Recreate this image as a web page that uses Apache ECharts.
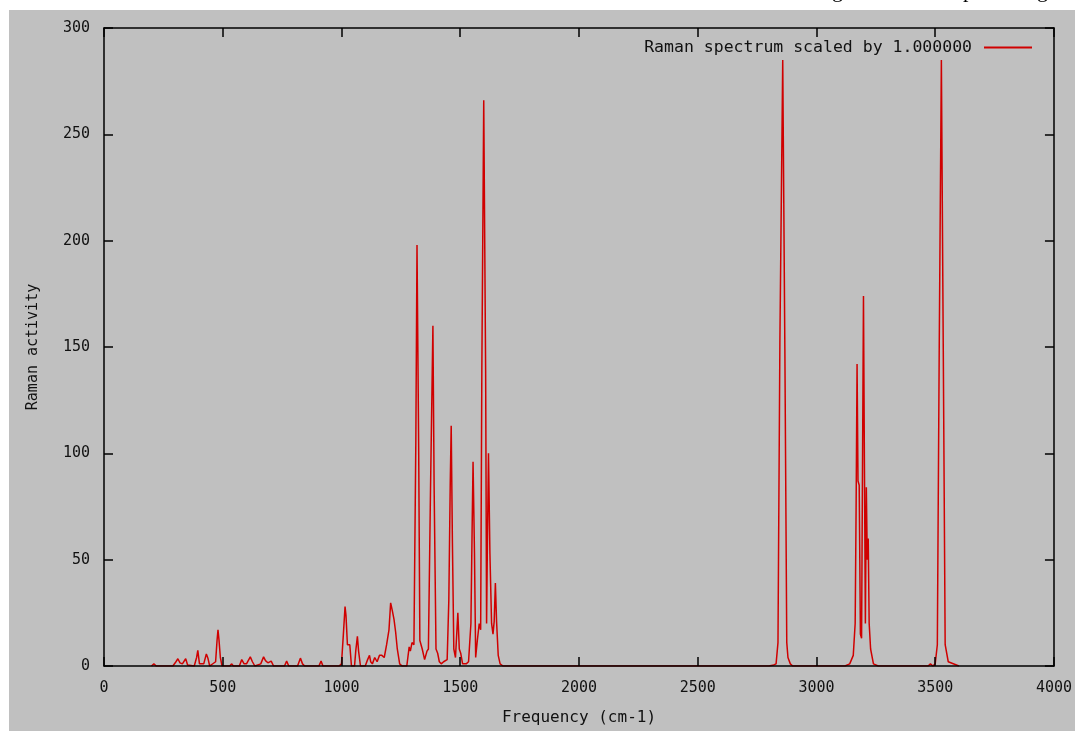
<!DOCTYPE html>
<html>
<head>
<meta charset="utf-8">
<script src="https://cdn.jsdelivr.net/npm/echarts@6/dist/echarts.min.js"></script>
<style>
  html, body { margin: 0; padding: 0; background: #fff; }
  #chart { width: 1075px; height: 731px; }
</style>
</head>
<body>
<div id="chart"></div>
<script>
// Raman spectrum
var freq = [
  200, 210, 220,
  290, 300, 311, 320, 330, 344, 352,
  380, 390, 395, 402, 420, 431, 438, 445,
  470, 476, 480, 484, 490, 497,
  530, 537, 545,
  570, 580, 590, 600, 616, 625, 635,
  660, 672, 680, 690, 704, 714,
  760, 769, 778,
  815, 827, 836, 845,
  905, 914, 922,
  990, 1000, 1008, 1015, 1019, 1025, 1035, 1042,
  1055, 1060, 1067, 1072, 1080,
  1100, 1110, 1118, 1123, 1130, 1140, 1150, 1160, 1170, 1180, 1190, 1200, 1207, 1214, 1221, 1228, 1235, 1245, 1255,
  1275, 1285, 1290, 1297, 1305,
  1313, 1318, 1325, 1330, 1340, 1350, 1360, 1366, 1375, 1385, 1390, 1398, 1405, 1412, 1420, 1430, 1445,
  1452, 1458, 1462, 1467, 1473, 1480, 1490, 1496, 1502, 1510, 1525, 1535,
  1545, 1550, 1554, 1560, 1565, 1572, 1580, 1586, 1591, 1599, 1607, 1611, 1614, 1619, 1625, 1632, 1638,
  1643, 1648, 1653, 1660, 1668, 1680,
  2800, 2820, 2830, 2838, 2846, 2858, 2867, 2875, 2880, 2890, 2900,
  3120, 3140, 3155, 3163, 3167, 3171, 3175, 3180, 3185, 3190, 3194, 3198, 3202, 3206, 3210, 3214, 3218, 3222, 3228, 3240, 3260,
  3470, 3480, 3490, 3500, 3509, 3517, 3526, 3534, 3542, 3555, 3600
];
var activity = [
  0, 1, 0,
  0, 1.5, 3.4, 1.5, 1, 3.4, 0.5,
  0, 4, 7.4, 1, 1, 5.7, 3.5, 0,
  2, 12, 17, 12.5, 4, 0,
  0, 1, 0,
  0, 3, 1, 1, 4.3, 2, 0,
  1, 4.3, 2.5, 1.5, 2.3, 0,
  0, 2.3, 0,
  0, 3.7, 1, 0,
  0, 2.3, 0,
  0, 1, 15, 28, 23.7, 10, 10, 0,
  0, 7, 14, 7, 0,
  0, 3, 5, 2, 1, 4, 2, 5, 5, 4, 10, 17, 29.7, 26, 22, 16, 8, 1, 0,
  0, 9, 7, 11, 10,
  105, 198, 103, 12, 8, 3, 7, 8, 84, 160, 85, 8, 6, 2, 1, 2, 3,
  31, 86, 113, 59, 8, 4, 25, 8, 6, 1, 1, 2,
  20, 64, 96, 53, 4, 12, 20, 17, 139, 266, 139, 20, 53, 100, 53, 20, 15,
  21, 39, 21, 5, 1, 0,
  0, 0.5, 1, 11, 152, 285, 149, 11, 4, 1, 0,
  0, 1, 5, 20, 75, 142, 87, 85, 15, 13, 95, 174, 95, 20, 84, 50, 60, 20, 8, 1, 0,
  0, 1, 0, 1, 10, 150, 285, 149, 10, 2, 0, 0
];
var xTicks = [0, 4000, 500];
var yTicks = [0, 300, 50];
var seriesName = 'Raman spectrum scaled by 1.000000';

var points = freq.map(function (f, i) { return [f, activity[i]]; });
var mono = 'DejaVu Sans Mono';

function frameAxis(pos, ticks, withLabels) {
  return {
    type: 'value',
    position: pos,
    min: ticks[0],
    max: ticks[1],
    interval: ticks[2],
    z: 5,
    axisLine: { show: true, onZero: false, lineStyle: { color: '#000', width: 1.5 } },
    axisTick: { show: true, inside: true, length: 9, lineStyle: { color: '#000', width: 1.5 } },
    axisLabel: {
      show: withLabels, color: '#111', fontFamily: mono, fontSize: 15,
      formatter: function (v) { return String(v); }
    },
    splitLine: { show: false }
  };
}

var xMain = frameAxis('bottom', xTicks, true);
xMain.name = 'Frequency (cm-1)';
xMain.nameLocation = 'middle';
xMain.nameGap = 44;
xMain.nameTextStyle = { color: '#111', fontFamily: mono, fontSize: 16 };
xMain.axisLabel.margin = 15;

var yMain = frameAxis('left', yTicks, true);
yMain.name = 'Raman activity';
yMain.nameLocation = 'middle';
yMain.nameGap = 63;
yMain.nameTextStyle = { color: '#111', fontFamily: mono, fontSize: 15 };
yMain.axisLabel.margin = 14;

var option = {
  backgroundColor: '#fff',
  animation: false,
  graphic: [
    { type: 'rect', left: 9, top: 10, z: -100, silent: true,
      shape: { width: 1066, height: 721 }, style: { fill: '#c0c0c0' } },
    { type: 'text', left: 832, top: -20, silent: true,
      style: { text: 'g', font: '22px "Liberation Serif"', fill: '#000' } },
    { type: 'text', left: 963, top: -20, silent: true,
      style: { text: 'p', font: '22px "Liberation Serif"', fill: '#000' } },
    { type: 'text', left: 1037, top: -20, silent: true,
      style: { text: 'g', font: '22px "Liberation Serif"', fill: '#000' } }
  ],
  grid: { left: 104, top: 28, width: 953, height: 646, containLabel: false },
  legend: {
    right: 38,
    top: 34,
    align: 'right',
    icon: 'rect',
    itemWidth: 48,
    itemHeight: 2,
    textStyle: { color: '#111', fontFamily: mono, fontSize: 16.5, padding: [0, 7, 0, 0] },
    data: [seriesName]
  },
  xAxis: [xMain, frameAxis('top', xTicks, false)],
  yAxis: [yMain, frameAxis('right', yTicks, false)],
  series: [{
    name: seriesName,
    type: 'line',
    data: points,
    symbol: 'none',
    z: 2,
    color: '#d00000',
    lineStyle: { color: '#d00000', width: 1.5 }
  }]
};

var myChart = echarts.init(document.getElementById('chart'));
myChart.setOption(option);
</script>
</body>
</html>
